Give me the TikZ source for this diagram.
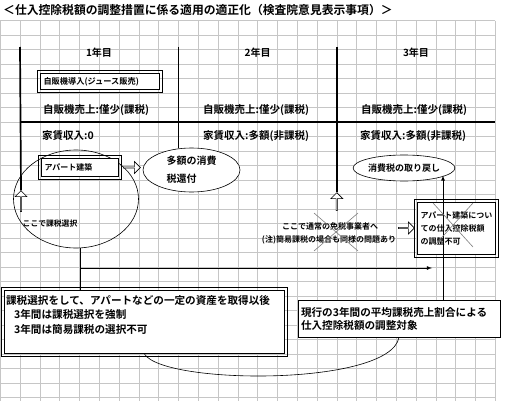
\documentclass[tikz,border=0pt]{standalone}
\usepackage{fontspec}
\setmainfont{Noto Sans CJK JP Bold}
\usetikzlibrary{shapes,arrows,positioning,shadows}

\begin{document}
\begin{tikzpicture}[
    x=1pt, y=-1pt,
    gridline/.style={draw=gray!45, line width=0.5pt},
    yearline/.style={line width=1.7pt},
    yearhead/.style={font=\fontsize{10}{12}\selectfont, inner sep=0pt},
    rowtext/.style={font=\fontsize{10.5}{13}\selectfont, inner sep=0pt, anchor=west},
    smalltext/.style={font=\fontsize{8}{10}\selectfont, inner sep=0pt},
    dblbox/.style={draw, line width=1.2pt, fill=white, inner sep=2pt, align=left},
    outerframe/.style={draw, line width=0.6pt},
    note/.style={draw, fill=white, line width=0.7pt, text width=#1, align=left, inner sep=2pt},
    oval/.style={draw, ellipse, fill=white, inner sep=0pt, line width=0.6pt},
    blockarrow/.style={single arrow, draw, fill=white, line width=0.6pt, inner sep=0pt, minimum width=12pt, minimum height=17pt, single arrow head extend=2.5pt},
    strike/.style={draw=gray, line width=0.6pt},
    arrow/.style={-latex, line width=0.8pt}
]

\useasboundingbox (0,0) rectangle (505,401);
\fill[white] (0,0) rectangle (505,401);

% Sheet grid
\foreach \i in {0,...,25}
    \draw[gridline] (0.2+19.8*\i,20.7) -- (0.2+19.8*\i,401);
\foreach \j in {0,...,26}
    \draw[gridline] (0,20.7+14.5*\j) -- (495.2,20.7+14.5*\j);

% Title
\node[anchor=west, font=\fontsize{11.8}{14}\selectfont, inner sep=0pt] (title) at (3,10) {＜仕入控除税額の調整措置に係る適用の適正化（検査院意見表示事項）＞};

% Year columns
\coordinate (top1) at (20,47);
\coordinate (top2) at (178.4,47);
\coordinate (top3) at (336.8,47);
\coordinate (rule_l) at (20,122);
\coordinate (rule_r) at (495.2,122);

\node[yearhead] (year1) at (99,53) {1年目};
\node[yearhead] (year2) at (257.6,53) {2年目};
\node[yearhead] (year3) at (416,53) {3年目};

\node[dblbox, minimum width=119pt, minimum height=16pt, text width=113pt, font=\fontsize{8.2}{10}\selectfont] (jihanki) at (100,81.5) {自販機導入(ジュース販売)};

\node[rowtext] (sales1) at (43,110) {自販機売上:僅少(課税)};
\node[rowtext] (sales2) at (203,110) {自販機売上:僅少(課税)};
\node[rowtext] (sales3) at (361,110) {自販機売上:僅少(課税)};

\node[rowtext] (rent1) at (42,136) {家賃収入:0};
\node[rowtext] (rent2) at (203,136) {家賃収入:多額(非課税)};
\node[rowtext] (rent3) at (360,136) {家賃収入:多額(非課税)};

% Year 1
\node[oval, fill=none, minimum width=125pt, minimum height=98pt] (sentaku) at (76,199) {};
\node[dblbox, minimum width=77pt, minimum height=18pt, text width=71pt, font=\fontsize{8}{10}\selectfont] (apato) at (80,167.5) {アパート建築};
\node[blockarrow, right=4pt of apato] (to_kanpu) {};
\node[oval, minimum width=97pt, minimum height=44pt, align=left, font=\fontsize{10}{18}\selectfont] (kanpu) at (191.5,170) {多額の消費\\税還付};
\node[blockarrow, shape border rotate=90, minimum height=21pt] (up1) at (21,201.5) {};
\node[smalltext, font=\fontsize{7.8}{10}\selectfont] (kokode) at (50,224) {ここで課税選択};

% Year 2
\node[blockarrow, shape border rotate=90, minimum height=18pt] (up3) at (336.8,202) {};
\node[smalltext] (menzei) at (330,226) {ここで通常の免税事業者へ};
\node[smalltext] (kani) at (329,240) {(注)簡易課税の場合も同様の問題あり};
\coordinate (x_mid) at (336,232);
\draw[strike] ([shift={(-22,-19)}]x_mid) -- ([shift={(22,19)}]x_mid);
\draw[strike] ([shift={(22,-19)}]x_mid) -- ([shift={(-22,19)}]x_mid);
\node[blockarrow, minimum height=16pt] (to_ap) at (406,228) {};

% Year 3
\node[oval, minimum width=94pt, minimum height=26pt, font=\fontsize{9}{11}\selectfont] (torimodoshi) at (404,168) {消費税の取り戻し};
\node[dblbox, minimum width=78pt, minimum height=52pt, text width=72pt, font=\fontsize{8}{13}\selectfont] (apbox) at (456.5,228.5) {アパート建築につい\\ての仕入控除税額\\の調整不可};

% Bottom boxes
\node[dblbox, minimum width=280pt, minimum height=63pt] (kazei) at (144.5,322) {};
\node[anchor=north west, align=left, inner sep=0pt, font=\fontsize{10.6}{14.5}\selectfont] (kazei_text) at ([shift={(2,5)}]kazei.north west) {課税選択をして、アパートなどの一定の資産を取得以後\\\hspace*{8pt}3年間は課税選択を強制\\\hspace*{8pt}3年間は簡易課税の選択不可};
\node[note=196pt, minimum width=202pt, minimum height=37pt, drop shadow={shadow xshift=1.2pt, shadow yshift=-1.2pt, fill=black!70, opacity=1}, font=\fontsize{10.6}{13}\selectfont] (genko) at (399,318.5) {現行の3年間の平均課税売上割合による\\仕入控除税額の調整対象};

% Outer frames of the double boxes
\foreach \n in {jihanki,apato,apbox,kazei}
    \draw[outerframe] ([shift={(-2.2,-2.2)}]\n.north west) rectangle ([shift={(2.2,2.2)}]\n.south east);

% Lines
\draw[yearline] (top1) -- (up1.tip);
\draw[yearline] (top2) -- (top2 |- kanpu.north);
\draw[yearline] (top3) -- (up3.tip);
\draw[yearline] (rule_l) -- (rule_r);

% Arrows
\coordinate (hit) at (432,268);
\draw[line width=0.8pt] ([xshift=4pt]sentaku.south) -- ([xshift=4pt]sentaku.south |- kazei.north);
\draw[arrow] ([xshift=4pt]sentaku.south |- hit) -- (hit);
\draw[arrow] ([xshift=44pt]genko.north) -- ([xshift=44pt]genko.north |- torimodoshi.-10);
\draw[line width=0.6pt] (kazei.south) .. controls +(20,31) and +(-9,49) .. (genko.south);

% Struck out
\coordinate (ap_mid) at (453,225);
\draw[strike] ([shift={(-20,-22)}]ap_mid) -- ([shift={(20,22)}]ap_mid);
\draw[strike] ([shift={(20,-22)}]ap_mid) -- ([shift={(-18,20)}]ap_mid);

\end{tikzpicture}
\end{document}
